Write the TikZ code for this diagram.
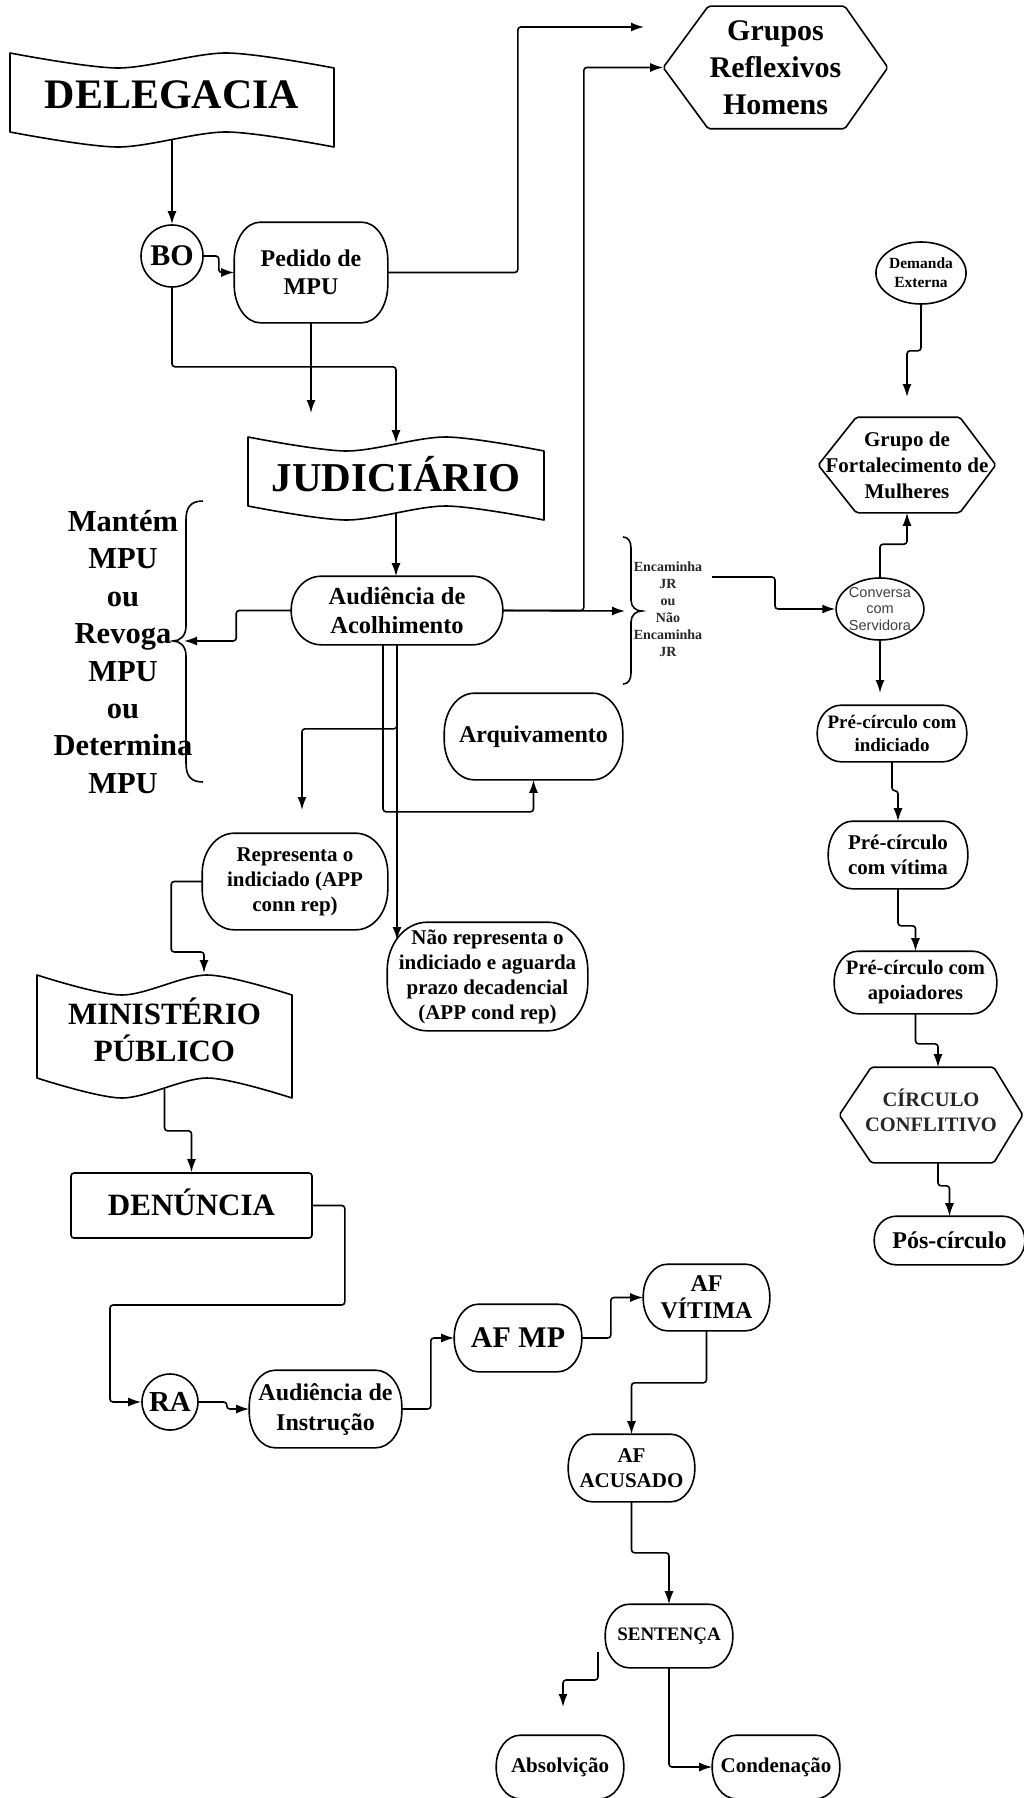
\documentclass[tikz,border=0pt]{standalone}
\usepackage{fontspec}
\setmainfont{Liberation Serif}
\newfontfamily\sansf{Liberation Sans}
\usetikzlibrary{shapes.geometric,arrows.meta,calc}
\newcommand\myfs[2]{\fontsize{#1}{#2}\selectfont}
% x1 x2 ytop ybot amp
\newcommand\wavyshape[5]{%
  \draw[line join=round] plot[smooth] coordinates {(#1,#3) ({#1+(#2-#1)/3},{#3+#5}) ({#1+2*(#2-#1)/3},#3) (#2,{#3+#5})}
   -- plot[smooth] coordinates {(#2,{#4+#5}) ({#1+2*(#2-#1)/3},#4) ({#1+(#2-#1)/3},{#4+#5}) (#1,#4)} -- cycle;}
\begin{document}
\begin{tikzpicture}[x=1pt,y=-1pt,line width=1.6pt,
  arr/.style={-{Latex[length=13pt,width=9pt]},rounded corners=3pt},
  rbox/.style={align=center,inner sep=0pt},
  txt/.style={inner sep=0pt,align=center},
  ell/.style={draw,ellipse,inner sep=0pt,align=center}]
\useasboundingbox (0,0) rectangle (1023,1798);

% ---- nodes ----
\node[txt,minimum width=324pt,minimum height=79pt,text depth=10pt,font=\bfseries\myfs{42}{48}] (del) at (172,100) {DELEGACIA};
\wavyshape{10}{334}{53}{132}{15}

\node[draw,circle,minimum size=62pt,inner sep=0pt,font=\bfseries\myfs{30}{34}] (bo) at (172,256) {BO};

\node[rbox,minimum width=152pt,minimum height=99pt,font=\bfseries\myfs{24}{28}] (ped) at (311,272.5) {Pedido de\\MPU};

\node[txt,minimum width=223pt,minimum height=121pt,font=\bfseries\myfs{30}{37}] (grh) at (775.5,67.5) {Grupos\\Reflexivos\\Homens};
\draw[rounded corners=2pt] (grh.west) -- ([xshift=45pt]grh.north west) -- ([xshift=-43pt]grh.north east) -- (grh.east) -- ([xshift=-43pt]grh.south east) -- ([xshift=45pt]grh.south west) -- cycle;

\node[ell,minimum width=90pt,minimum height=62pt,font=\bfseries\myfs{15.5}{19}] (dem) at (921,273) {Demanda\\Externa};

\node[txt,minimum width=176pt,minimum height=94pt,font=\bfseries\myfs{21}{26}] (gfm) at (907,465) {Grupo de\\Fortalecimento de\\Mulheres};
\draw[rounded corners=2pt] (gfm.west) -- ([xshift=38pt]gfm.north west) -- ([xshift=-36pt]gfm.north east) -- (gfm.east) -- ([xshift=-36pt]gfm.south east) -- ([xshift=38pt]gfm.south west) -- cycle;

\node[txt,minimum width=296pt,minimum height=68pt,text depth=9pt,font=\bfseries\myfs{41}{48}] (jud) at (396,478) {JUDICIÁRIO};
\wavyshape{248}{544}{437}{506}{14}

\node[rbox,minimum width=210pt,minimum height=67pt,font=\bfseries\myfs{24.5}{29}] (aco) at (397,610.5) {Audiência de\\Acolhimento};

\node[txt,font=\bfseries\myfs{30.5}{37.4}] (mant) at (123,652) {Mantém\\MPU\\ou\\Revoga\\MPU\\ou\\Determina\\MPU};

\node[txt,text=black!85,font=\bfseries\myfs{14}{17}] (enc) at (668,609.5) {Encaminha\\JR\\ou\\Não\\Encaminha\\JR};

\node[ell,minimum width=84pt,minimum height=62pt,text=black!75,font=\sansf\myfs{14.5}{16.5}] (con) at (880,609) {Conversa\\com\\Servidora};

\node[rbox,minimum width=148pt,minimum height=55pt,font=\bfseries\myfs{19}{23}] (pci) at (892,733.5) {Pré-círculo com\\indiciado};
\node[rbox,minimum width=138pt,minimum height=66pt,font=\bfseries\myfs{21}{25}] (pcv) at (898,855) {Pré-círculo\\com vítima};
\node[rbox,minimum width=161pt,minimum height=61pt,font=\bfseries\myfs{20.5}{25}] (pca) at (915.5,982.5) {Pré-círculo com\\apoiadores};

\node[txt,minimum width=182pt,minimum height=94pt,text depth=10pt,text=black!85,font=\bfseries\myfs{20.5}{25}] (cc) at (931,1115) {CÍRCULO\\CONFLITIVO};
\draw[rounded corners=2pt] (cc.west) -- ([xshift=32pt]cc.north west) -- ([xshift=-29pt]cc.north east) -- (cc.east) -- ([xshift=-29pt]cc.south east) -- ([xshift=32pt]cc.south west) -- cycle;

\node[rbox,minimum width=149pt,minimum height=47pt,font=\bfseries\myfs{24}{28}] (pos) at (949.5,1240.5) {Pós-círculo};

\node[rbox,minimum width=177pt,minimum height=85pt,font=\bfseries\myfs{24}{28}] (arq) at (533.5,736.5) {Arquivamento};

\node[rbox,minimum width=184pt,minimum height=95pt,font=\bfseries\myfs{21}{25}] (rep) at (295,881.5) {Representa o\\indiciado (APP\\conn rep)};
\node[rbox,minimum width=199pt,minimum height=107pt,font=\bfseries\myfs{21}{25}] (nao) at (487.5,976.5) {Não representa o\\indiciado e aguarda\\prazo decadencial\\(APP cond rep)};

\node[txt,minimum width=255pt,minimum height=103pt,text depth=13pt,font=\bfseries\myfs{31}{37}] (mp) at (164.5,1036.5) {MINISTÉRIO\\PÚBLICO};
\wavyshape{37}{292}{975}{1078}{20}

\node[draw,rounded corners=3pt,minimum width=241pt,minimum height=65pt,inner sep=0pt,text depth=7pt,font=\bfseries\myfs{31}{36}] (den) at (191.5,1205.5) {DENÚNCIA};

\node[draw,circle,minimum size=56pt,inner sep=0pt,font=\bfseries\myfs{29}{34}] (ra) at (170,1402) {RA};
\node[rbox,minimum width=151pt,minimum height=76pt,font=\bfseries\myfs{24}{30}] (ins) at (325.5,1409) {Audiência de\\Instrução};
\node[rbox,minimum width=126pt,minimum height=66pt,font=\bfseries\myfs{30}{34}] (afmp) at (518,1338) {AF MP};
\node[rbox,minimum width=125pt,minimum height=65pt,font=\bfseries\myfs{24}{27}] (afv) at (706.5,1297.5) {AF\\VÍTIMA};
\node[rbox,minimum width=125pt,minimum height=66pt,font=\bfseries\myfs{21}{25}] (afa) at (631.5,1468) {AF\\ACUSADO};
\node[rbox,minimum width=126pt,minimum height=62pt,font=\bfseries\myfs{19}{23}] (sen) at (669,1636) {SENTENÇA};
\node[rbox,minimum width=126pt,minimum height=62pt,font=\bfseries\myfs{21}{25}] (abs) at (560,1767) {Absolvição};
\node[rbox,minimum width=126pt,minimum height=62pt,font=\bfseries\myfs{21}{25}] (cond) at (776,1767) {Condenação};

% ---- frames with elliptical corners ----
\foreach \n/\rx/\ry in {ped/26/38, aco/30/33.5, arq/30/40, rep/32/40, nao/40/48,
    pci/24/27.5, pcv/24/33, pca/24/30.5, pos/22/23.5, ins/26/36, afmp/24/33,
    afv/24/32.5, afa/24/33, sen/24/31, abs/24/31, cond/24/31}{
  \draw ([xshift=\rx pt]\n.north west) -- ([xshift=-\rx pt]\n.north east)
    arc[start angle=90,end angle=0,x radius=\rx pt,y radius=\ry pt]
    -- ([yshift=\ry pt]\n.south east)
    arc[start angle=0,end angle=-90,x radius=\rx pt,y radius=\ry pt]
    -- ([xshift=\rx pt]\n.south west)
    arc[start angle=-90,end angle=-180,x radius=\rx pt,y radius=\ry pt]
    -- ([yshift=-\ry pt]\n.north west)
    arc[start angle=180,end angle=90,x radius=\rx pt,y radius=\ry pt] -- cycle;
}

% ---- braces ----
\draw (203,501) .. controls (190,501) and (186,508) .. (186,520) -- (186,626)
  .. controls (186,636) and (180,641) .. (173,641)
  .. controls (180,641) and (186,646) .. (186,656) -- (186,763)
  .. controls (186,775) and (190,782) .. (203,782);
\draw (623,537) .. controls (628,537) and (631,541) .. (631,548) -- (631,600)
  .. controls (631,607) and (636,611) .. (642,611)
  .. controls (636,611) and (631,615) .. (631,622) -- (631,673)
  .. controls (631,680) and (628,684) .. (623,684);

% ---- free ends ----
\coordinate (pedend) at (311,413);
\coordinate (grhend) at (644,27);
\coordinate (gfmin) at (907,397);
\coordinate (pcin) at (880,693);
\coordinate (repin) at (302,810);
\coordinate (naoin) at (397,940);
\coordinate (mpin) at (204,973);
\coordinate (absfrom) at (598,1652);
\coordinate (absto) at (563,1707);
\coordinate (braceL) at (184,641);
\coordinate (braceR) at (625,611);
\coordinate (encout) at (712,577);

% ---- connectors ----
\draw[arr] (del.south) -- (bo.north);
\draw[arr] (bo.east) -- ++(15,0) |- (ped.west);
\draw[arr] (ped.south) -- (pedend);
\draw[arr] (bo.south) -- ++(0,79) -| (jud.north);
\draw[arr] (ped.east) -- ++(130,0) |- (grhend);
\draw[arr] (jud.south) -- (jud.south |- aco.north);
\draw[arr] (aco.west) -- ++(-55,0) |- (braceL);
\draw[arr] (aco.east) -- (braceR);
\draw[arr] (aco.east) -- ++(81,0) |- (grh.west);
\draw[arr] (encout) -- ++(63,0) |- (con.west);
\draw[arr] (con.north) -- ++(0,-33) -| (gfm.south);
\draw[arr] (dem.south) -- ++(0,46) -| (gfmin);
\draw[arr] (con.south) -- (pcin);
\draw[arr] (pci.south) -- ++(0,29) -| (pcv.north);
\draw[arr] (pcv.south) -- ++(0,37) -| (pca.north);
\draw[arr] (pca.south) -- ++(0,30) -| ([xshift=7pt]cc.north);
\draw[arr] ([xshift=7pt]cc.south) -- ++(0,23) -| (pos.north);
\draw[arr] (aco.south) -- ++(0,84) -| (repin);
\draw[arr] (aco.south) -- (naoin);
\draw[arr] ([xshift=-14pt]aco.south) -- ++(0,167) -| (arq.south);
\draw[arr] (rep.west) -- ++(-31,0) |- ($(mpin)+(0,-21)$) -- (mpin);
\draw[arr] (mp.south) -- ++(0,42) -| (den.north);
\draw[arr] (den.east) -- ++(32,0) |- (110,1305) |- (ra.west);
\draw[arr] (ra.east) -- ++(28,0) |- (ins.west);
\draw[arr] (ins.east) -- ++(29,0) |- (afmp.west);
\draw[arr] (afmp.east) -- ++(29,0) |- (afv.west);
\draw[arr] (afv.south) -- ++(0,52) -| (afa.north);
\draw[arr] (afa.south) -- ++(0,51) -| (sen.north);
\draw[arr] (absfrom) -- ++(0,28) -| (absto);
\draw[arr] (sen.south) |- (cond.west);
\end{tikzpicture}
\end{document}
